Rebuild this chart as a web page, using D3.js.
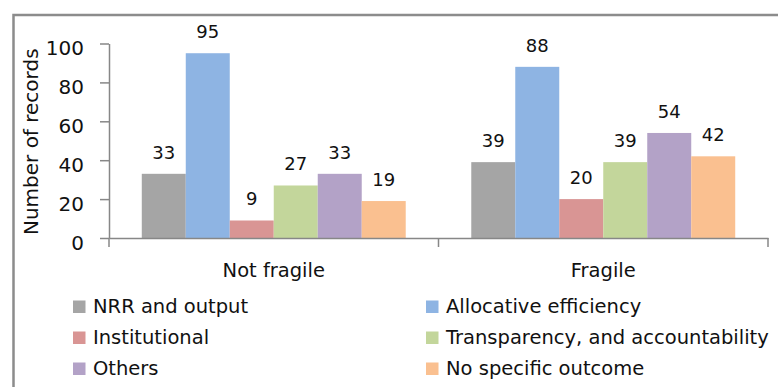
<!DOCTYPE html>
<html>
<head>
<meta charset="utf-8">
<script src="https://cdn.jsdelivr.net/npm/d3@7/dist/d3.min.js"></script>
<style>
  html, body { margin: 0; padding: 0; background: #fff; }
  svg { display: block; font-family: "DejaVu Sans", Verdana, sans-serif; }
</style>
</head>
<body>
<svg id="chart" width="778" height="387"></svg>
<script>
// Groups along the x axis
const categories = ["Not fragile", "Fragile"];
// Outcome series, in legend order
const seriesNames = [
  "NRR and output",
  "Allocative efficiency",
  "Institutional",
  "Transparency, and accountability",
  "Others",
  "No specific outcome"
];
const seriesColors = ["#a5a5a5", "#8eb4e3", "#d99594", "#c3d69b", "#b3a2c7", "#fac090"];
// Number of records per series, one value per category
const notFragileValues = [33, 95, 9, 27, 33, 19];
const fragileValues = [39, 88, 20, 39, 54, 42];
const yTicks = [0, 20, 40, 60, 80, 100];

const valuesByCategory = [notFragileValues, fragileValues];
const rows = [];
categories.forEach((c, ci) => {
  seriesNames.forEach((s, si) => rows.push({ category: c, series: s, value: valuesByCategory[ci][si] }));
});

const svg = d3.select("#chart");
const axisColor = "#878787";
const textColor = "#111";

// Outer chart frame
svg.append("rect")
  .attr("x", 13.5).attr("y", 15)
  .attr("width", 800).attr("height", 400)
  .attr("fill", "none")
  .attr("stroke", "#8c8c8c")
  .attr("stroke-width", 2.5);

const plotLeft = 109, plotRight = 768, plotTop = 43.5, plotBottom = 238;

const x = d3.scaleBand().domain(categories).range([plotLeft, plotRight]).padding(0);
const xInner = d3.scaleBand().domain(seriesNames).range([0, x.bandwidth()])
  .paddingInner(0).paddingOuter(0.745);
const y = d3.scaleLinear().domain([0, 100]).range([plotBottom, plotTop]);
const color = d3.scaleOrdinal().domain(seriesNames).range(seriesColors);

// Bars
svg.append("g").selectAll("rect").data(rows).join("rect")
  .attr("x", d => x(d.category) + xInner(d.series))
  .attr("y", d => y(d.value))
  .attr("width", xInner.bandwidth())
  .attr("height", d => y(0) - y(d.value))
  .attr("fill", d => color(d.series));

// Value labels above each bar
svg.append("g").selectAll("text").data(rows).join("text")
  .attr("x", d => x(d.category) + xInner(d.series) + xInner.bandwidth() / 2)
  .attr("y", d => y(d.value) - 15)
  .attr("text-anchor", "middle")
  .style("font-size", "18px")
  .attr("fill", textColor)
  .text(d => d.value);

// Y axis
const yAxis = svg.append("g")
  .attr("transform", `translate(${plotLeft},0)`)
  .call(d3.axisLeft(y).tickValues(yTicks).tickSize(9).tickSizeOuter(0).tickPadding(16));
yAxis.attr("font-size", null).attr("font-family", null);
yAxis.selectAll("path, line").attr("stroke", axisColor).attr("stroke-width", 1.5);
yAxis.selectAll("text")
  .style("font-size", "20px")
  .style("font-family", "'DejaVu Sans', Verdana, sans-serif")
  .attr("fill", textColor)
  .attr("dy", "0.55em");

// X axis with category labels centred in each band
const xAxis = svg.append("g")
  .attr("transform", `translate(0,${plotBottom})`)
  .call(d3.axisBottom(x).tickSize(0).tickSizeOuter(0).tickPadding(0));
xAxis.attr("font-size", null).attr("font-family", null);
xAxis.selectAll("path").attr("stroke", axisColor).attr("stroke-width", 1.5);
xAxis.selectAll("text")
  .style("font-size", "19.5px")
  .style("font-family", "'DejaVu Sans', Verdana, sans-serif")
  .attr("fill", textColor)
  .attr("dy", null).attr("y", 39);

// Tick marks on the category boundaries
const boundaries = [x(categories[0])].concat(categories.map(c => x(c) + x.bandwidth()));
svg.append("g").selectAll("line").data(boundaries).join("line")
  .attr("x1", d => d).attr("x2", d => d)
  .attr("y1", plotBottom).attr("y2", plotBottom + 9)
  .attr("stroke", axisColor).attr("stroke-width", 1.5);

// Y axis title
svg.append("text")
  .attr("transform", `translate(38,${(plotTop + plotBottom) / 2 + 1}) rotate(-90)`)
  .attr("text-anchor", "middle")
  .style("font-size", "20px")
  .attr("fill", textColor)
  .text("Number of records");

// Legend: two columns, three rows
const legend = svg.append("g");
const legendCols = [73, 426];
const legendRows = [313, 344, 375];
const items = legend.selectAll("g").data(seriesNames).join("g")
  .attr("transform", (d, i) => `translate(${legendCols[i % 2]},${legendRows[Math.floor(i / 2)]})`);
items.append("rect")
  .attr("x", 0).attr("y", -12.5)
  .attr("width", 12.5).attr("height", 12.5)
  .attr("fill", d => color(d));
items.append("text")
  .attr("x", 20).attr("y", 0)
  .style("font-size", "19.5px")
  .attr("fill", textColor)
  .text(d => d);
</script>
</body>
</html>
